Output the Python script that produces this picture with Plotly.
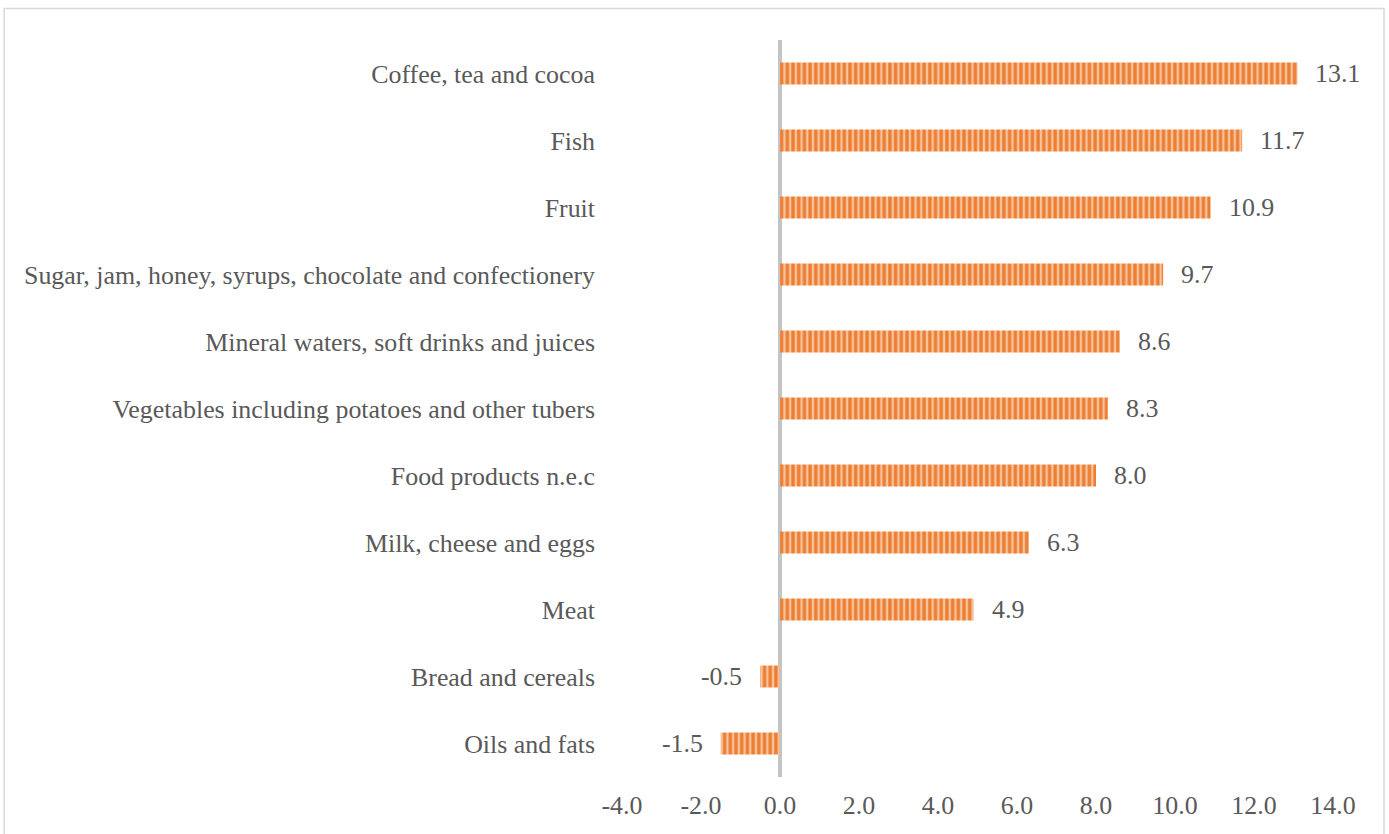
import plotly.graph_objects as go

# Annual change in food prices by category (%)
categories = [
    "Coffee, tea and cocoa",
    "Fish",
    "Fruit",
    "Sugar, jam, honey, syrups, chocolate and confectionery",
    "Mineral waters, soft drinks and juices",
    "Vegetables including potatoes and other tubers",
    "Food products n.e.c",
    "Milk, cheese and eggs",
    "Meat",
    "Bread and cereals",
    "Oils and fats",
]
values = [13.1, 11.7, 10.9, 9.7, 8.6, 8.3, 8.0, 6.3, 4.9, -0.5, -1.5]
x_ticks = [-4, -2, 0, 2, 4, 6, 8, 10, 12, 14]

FONT = "Liberation Serif"
SIZE = 25.9
TEXT = "#595959"
ORANGE = "#ED7D31"
LIGHT = "#F7C39C"

fig = go.Figure(
    go.Bar(
        x=values,
        y=categories,
        orientation="h",
        marker=dict(
            color=ORANGE,
            line=dict(width=0),
            pattern=dict(shape="|", size=5.7, solidity=0.42,
                         fgcolor=LIGHT, bgcolor=ORANGE, fillmode="replace"),
        ),
        hoverinfo="x+y",
    )
)

# value labels beside each bar end
for cat, v in zip(categories, values):
    fig.add_annotation(
        x=v, y=cat, xref="x", yref="y",
        text=f"{v:.1f}", showarrow=False,
        xanchor="left" if v >= 0 else "right",
        xshift=16 if v >= 0 else -16,
        font=dict(family=FONT, size=SIZE, color=TEXT),
    )

# outer chart border
fig.add_shape(
    type="rect", xref="paper", yref="paper",
    x0=-0.869, x1=1.0717, y0=-0.09, y1=1.0427,
    line=dict(color="#D9D9D9", width=1.5), fillcolor="rgba(0,0,0,0)",
    layer="below",
)

fig.update_layout(
    width=1389, height=834,
    margin=dict(l=622, r=56, t=40, b=57),
    paper_bgcolor="white", plot_bgcolor="white",
    bargap=0.672,
    showlegend=False,
    font=dict(family=FONT, size=SIZE, color=TEXT),
    xaxis=dict(
        range=[-4, 14], tickvals=x_ticks,
        ticktext=[f"{t:.1f}" for t in x_ticks],
        showgrid=False, showline=False, ticks="",
        zeroline=True, zerolinecolor="#C4C4C4", zerolinewidth=4,
        ticklabelstandoff=10, automargin=False,
        tickfont=dict(family=FONT, size=SIZE, color=TEXT),
    ),
    yaxis=dict(
        categoryorder="array", categoryarray=categories,
        autorange="reversed",
        showgrid=False, showline=False, ticks="",
        ticklabelstandoff=26, automargin=False,
        tickfont=dict(family=FONT, size=SIZE, color=TEXT),
    ),
)

fig.write_html("out.html")
